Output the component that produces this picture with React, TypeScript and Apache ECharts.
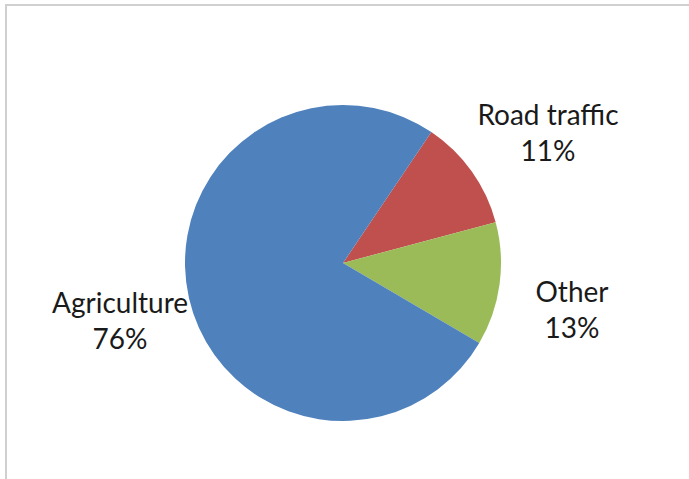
import React, { useEffect, useRef } from "react";
import * as echarts from "echarts";

const categories = ["Road traffic", "Other", "Agriculture"];
const values = [11.4, 12.6, 76.0];
const colors = ["#C0504D", "#9BBB59", "#4F81BD"];
// label block centres (px)
const labelPos: [number, number][] = [
  [548, 132],
  [572, 309],
  [120, 320],
];

export default function App() {
  const ref = useRef<HTMLDivElement>(null);
  useEffect(() => {
    if (!ref.current) return;
    const chart = echarts.init(ref.current, undefined, { renderer: "svg" });
    chart.setOption({
      animation: false,
      backgroundColor: "#ffffff",
      graphic: [
        {
          type: "rect",
          shape: { x: 6, y: 5, width: 800, height: 600 },
          style: { fill: "none", stroke: "#d0d0d0", lineWidth: 2 },
          silent: true,
          z: 0,
        },
      ],
      series: [
        {
          type: "pie",
          center: [343, 263],
          radius: [0, 158],
          startAngle: 56,
          clockwise: true,
          silent: true,
          avoidLabelOverlap: false,
          itemStyle: { borderWidth: 0 },
          data: categories.map((name, i) => ({
            name,
            value: values[i],
            itemStyle: { color: colors[i] },
          })),
          label: {
            show: true,
            position: "outside",
            formatter: (p: any) => `${p.name}\n${Math.round(p.percent)}%`,
            fontFamily: "Lato",
            fontSize: 28,
            lineHeight: 36,
            color: "#1a1a1a",
            align: "center",
            overflow: "none",
            width: 200,
          },
          labelLine: { show: false },
          labelLayout: (p: any) => {
            const pos = labelPos[p.dataIndex];
            return {
              x: pos[0],
              y: pos[1],
              align: "center",
              verticalAlign: "middle",
            };
          },
        },
      ],
    });
    return () => chart.dispose();
  }, []);
  return (
    <div
      ref={ref}
      style={{ position: "absolute", left: 0, top: 0, width: 689, height: 479 }}
    />
  );
}
